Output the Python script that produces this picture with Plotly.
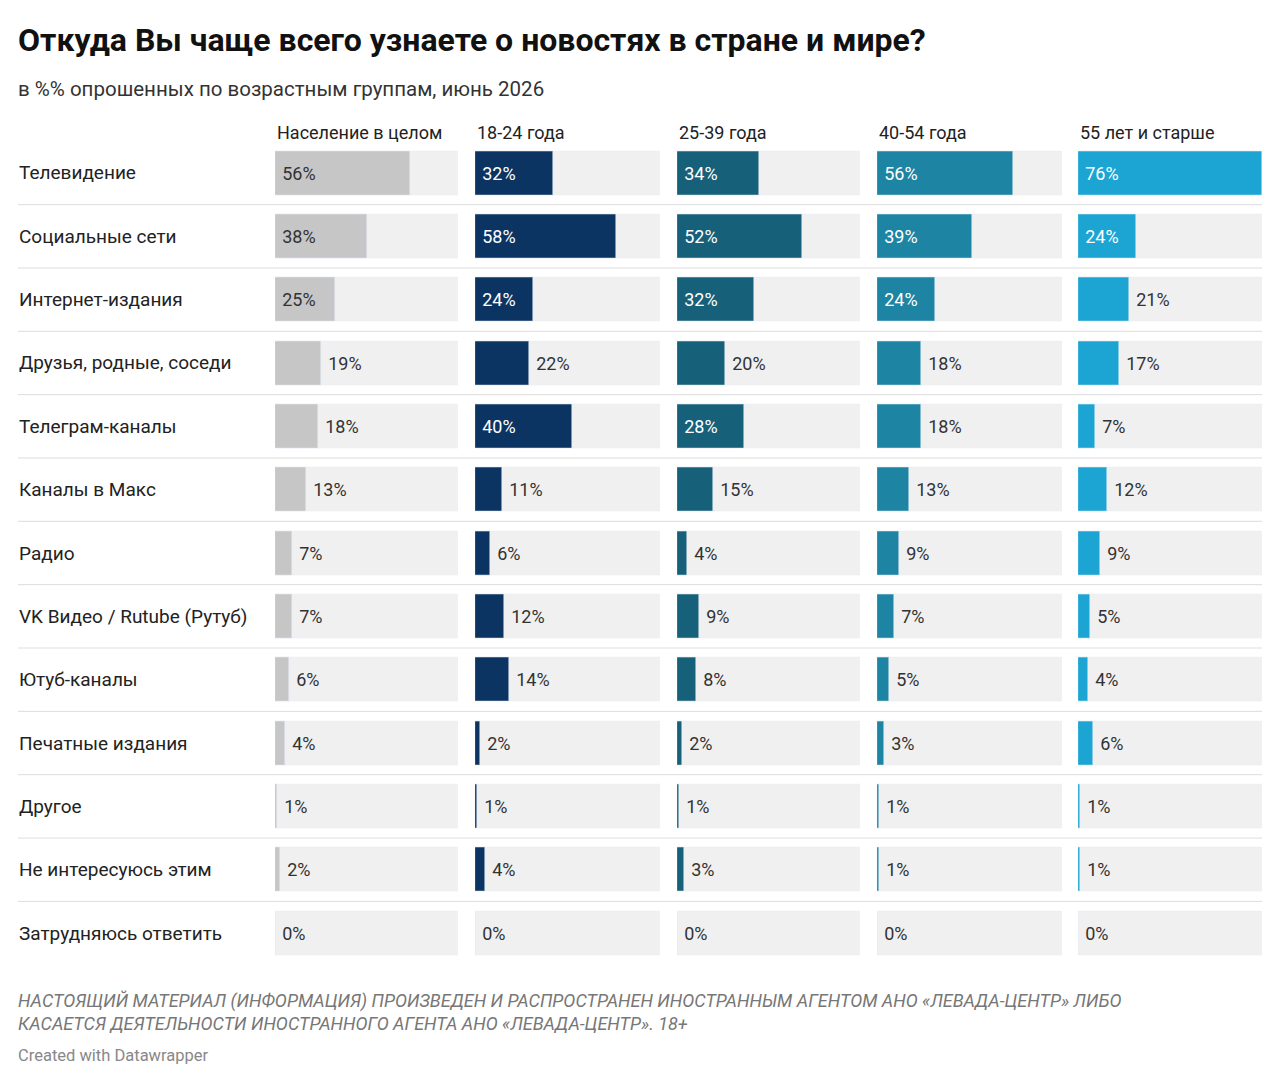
import plotly.graph_objects as go

categories = ["Телевидение","Социальные сети","Интернет-издания","Друзья, родные, соседи",
              "Телеграм-каналы","Каналы в Макс","Радио","VK Видео / Rutube (Рутуб)",
              "Ютуб-каналы","Печатные издания","Другое","Не интересуюсь этим","Затрудняюсь ответить"]
groups = ["Население в целом","18-24 года","25-39 года","40-54 года","55 лет и старше"]
v_all   = [56,38,25,19,18,13,7,7,6,4,1,2,0]
v_18_24 = [32,58,24,22,40,11,6,12,14,2,1,4,0]
v_25_39 = [34,52,32,20,28,15,4,9,8,2,1,3,0]
v_40_54 = [56,39,24,18,18,13,9,7,5,3,1,1,0]
v_55    = [76,24,21,17,7,12,9,5,4,6,1,1,0]
series = [v_all, v_18_24, v_25_39, v_40_54, v_55]
colors = ["#c6c6c6","#0b3463","#17607a","#1e84a4","#1ca5d3"]
inside_font = ["#333333","white","white","white","white"]

W, H = 1280, 1083
OFF = 8  # page margin compensation
cols_px = [(275,458),(475,660),(677,860),(877,1062),(1078,1262)]
y_top, y_bot = 141.3, 964.7
XMAX = 76
FONT = "Roboto"

def px(x): return (x-OFF)/W
def py(y): return 1-(y-OFF)/H

fig = go.Figure()
layout = {}
for i, (vals, (x0, x1)) in enumerate(zip(series, cols_px)):
    ax = "x" if i == 0 else f"x{i+1}"
    fig.add_trace(go.Bar(y=categories, x=[XMAX]*len(categories), orientation="h",
                         marker_color="#f0f0f0", width=0.695, xaxis=ax, yaxis="y",
                         hoverinfo="skip", showlegend=False))
    pos = ["inside" if v >= 24 else "outside" for v in vals]
    fig.add_trace(go.Bar(y=categories, x=vals, orientation="h", marker_color=colors[i],
                         width=0.695, xaxis=ax, yaxis="y", showlegend=False,
                         text=[f" {v}%" for v in vals], textposition=pos,
                         insidetextanchor="start", cliponaxis=False,
                         insidetextfont=dict(color=inside_font[i], size=18, family=FONT),
                         outsidetextfont=dict(color="#333333", size=18, family=FONT)))
    key = "xaxis" if i == 0 else f"xaxis{i+1}"
    layout[key] = dict(domain=[px(x0), px(x1)], range=[0, XMAX], visible=False,
                       fixedrange=True, anchor="y")
    fig.add_annotation(x=px(x0), y=py(132), xref="paper", yref="paper", text=groups[i],
                       showarrow=False, xanchor="left", yanchor="middle",
                       font=dict(size=18, color="#222", family=FONT))

layout["yaxis"] = dict(domain=[py(y_bot), py(y_top)], range=[12.5,-0.5], visible=False,
                       type="category", categoryorder="array", categoryarray=categories)
fig.update_layout(**layout)

pitch = (y_bot - y_top)/13
for k, c in enumerate(categories):
    yc = y_top + pitch*(k+0.5)
    fig.add_annotation(x=px(17), y=py(yc), xref="paper", yref="paper", text=c, showarrow=False,
                       xanchor="left", yanchor="middle", font=dict(size=19, color="#222", family=FONT))
    if k > 0:
        yl = py(y_top + pitch*k)
        fig.add_shape(type="line", xref="paper", yref="paper", x0=px(18), x1=px(1262), y0=yl, y1=yl,
                      line=dict(color="#dddddd", width=1))

fig.add_annotation(x=px(16), y=py(40), xref="paper", yref="paper", showarrow=False, xanchor="left",
                   yanchor="middle", text="<b>Откуда Вы чаще всего узнаете о новостях в стране и мире?</b>",
                   font=dict(size=32, color="#111", family=FONT))
fig.add_annotation(x=px(16), y=py(89), xref="paper", yref="paper", showarrow=False, xanchor="left",
                   yanchor="middle", text="в %% опрошенных по возрастным группам, июнь 2026",
                   font=dict(size=20.5, color="#333", family=FONT))
fig.add_annotation(x=px(16), y=py(1012), xref="paper", yref="paper", showarrow=False, xanchor="left",
                   yanchor="middle", align="left",
                   text="<i>НАСТОЯЩИЙ МАТЕРИАЛ (ИНФОРМАЦИЯ) ПРОИЗВЕДЕН И РАСПРОСТРАНЕН ИНОСТРАННЫМ АГЕНТОМ АНО «ЛЕВАДА-ЦЕНТР» ЛИБО<br>КАСАЕТСЯ ДЕЯТЕЛЬНОСТИ ИНОСТРАННОГО АГЕНТА АНО «ЛЕВАДА-ЦЕНТР». 18+</i>",
                   font=dict(size=18, color="#777", family=FONT))
fig.add_annotation(x=px(16), y=py(1055), xref="paper", yref="paper", showarrow=False, xanchor="left",
                   yanchor="middle", text="Created with Datawrapper",
                   font=dict(size=16.5, color="#888", family=FONT))

fig.update_layout(width=W, height=H, margin=dict(l=0, r=0, t=0, b=0), barmode="overlay",
                  paper_bgcolor="white", plot_bgcolor="white", bargap=0)
fig.write_html("out.html")
